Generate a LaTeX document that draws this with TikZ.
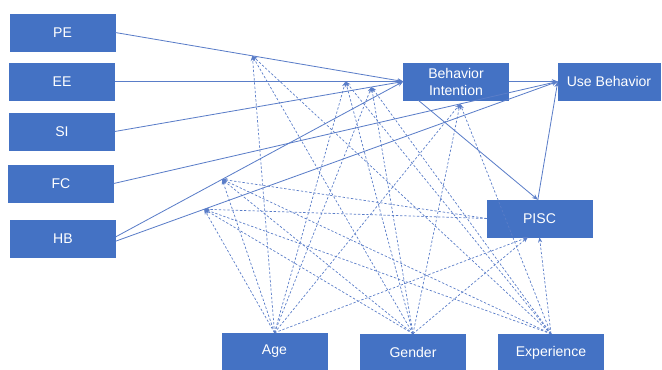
\documentclass[tikz,border=0pt]{standalone}
\usepackage{fontspec}
\setmainfont{Liberation Sans}
\usepackage{tikz}
\usetikzlibrary{arrows.meta,positioning}
\definecolor{boxblue}{RGB}{68,114,196}
\definecolor{lineblue}{RGB}{90,125,200}

\begin{document}
\begin{tikzpicture}[x=0.03cm, y=-0.03cm,
  box/.style={rectangle, draw=boxblue, fill=boxblue, text=white, minimum width=3.15cm, minimum height=1.11cm, inner sep=1pt, align=center, font=\fontsize{12}{14.5}\selectfont},
  arrow/.style={lineblue, line width=0.7pt, -{Stealth[length=5pt,width=4pt]}},
  mod/.style={lineblue, line width=0.6pt, dash pattern=on 2pt off 1.6pt, -{Stealth[length=4.5pt,width=3.5pt]}}]
  \useasboundingbox (0,0) rectangle (662,370);
  \node[box] (pe) at (62.5,32.5) {PE};
  \node[box] (ee) at (62,81.5) {EE};
  \node[box] (si) at (62,131.5) {SI};
  \node[box] (fc) at (61,183.5) {FC};
  \node[box] (hb) at (63,238.5) {HB};
  \node[box] (bi) at (456,81.5) {Behavior\\Intention};
  \node[box, minimum width=3.06cm] (ub) at (609,81.5) {Use Behavior};
  \node[box] (pisc) at (539.5,218.5) {PISC};
  \node[box] (age) at (274.5,351.5) {Age};
  \node[box] (gen) at (413,352.5) {Gender};
  \node[box] (exp) at (551,352.5) {Experience};
  \draw[arrow] (pe.east) -- coordinate[pos=0.476] (m1) (bi.west);
  \draw[arrow] (ee.east) -- coordinate[pos=0.8] (m2) (bi.west);
  \draw[arrow] (si.east) -- coordinate[pos=0.89] (m3) (bi.west);
  \draw[arrow] ([yshift=0.05cm]hb.east) -- coordinate[pos=0.37] (m5) (bi.west);
  \draw[arrow] (fc.east) -- coordinate[pos=0.78] (m4) (ub.west);
  \draw[arrow] ([yshift=-0.08cm]hb.east) -- coordinate[pos=0.2] (m6) (ub.west);
  \draw[arrow] (bi) -- (ub);
  \draw[arrow] ([xshift=0.45cm]bi.south west) -- ([xshift=-0.05cm]pisc.north);
  \draw[arrow] ([xshift=-0.05cm]pisc.north) -- (ub.west);
  \draw[mod] (age.north) -- (m1);
  \draw[mod] (age.north) -- (m2);
  \draw[mod] (age.north) -- (m3);
  \draw[mod] (age.north) -- (m4);
  \draw[mod] (age.north) -- (m5);
  \draw[mod] (age.north) -- (m6);
  \draw[mod] (age.north) -- ([xshift=-0.35cm]pisc.south);
  \draw[mod] (gen.north) -- (m1);
  \draw[mod] (gen.north) -- (m2);
  \draw[mod] (gen.north) -- (m3);
  \draw[mod] (gen.north) -- (m4);
  \draw[mod] (gen.north) -- (m5);
  \draw[mod] (gen.north) -- (m6);
  \draw[mod] (gen.north) -- ([xshift=-0.35cm]pisc.south);
  \draw[mod] (exp.north) -- (m1);
  \draw[mod] (exp.north) -- (m2);
  \draw[mod] (exp.north) -- (m3);
  \draw[mod] (exp.north) -- (m4);
  \draw[mod] (exp.north) -- (m5);
  \draw[mod] (exp.north) -- (m6);
  \draw[mod] (exp.north) -- (pisc.south);
  \draw[mod] (pisc.west) -- (m5);
  \draw[mod] (pisc.west) -- (m6);
\end{tikzpicture}
\end{document}
